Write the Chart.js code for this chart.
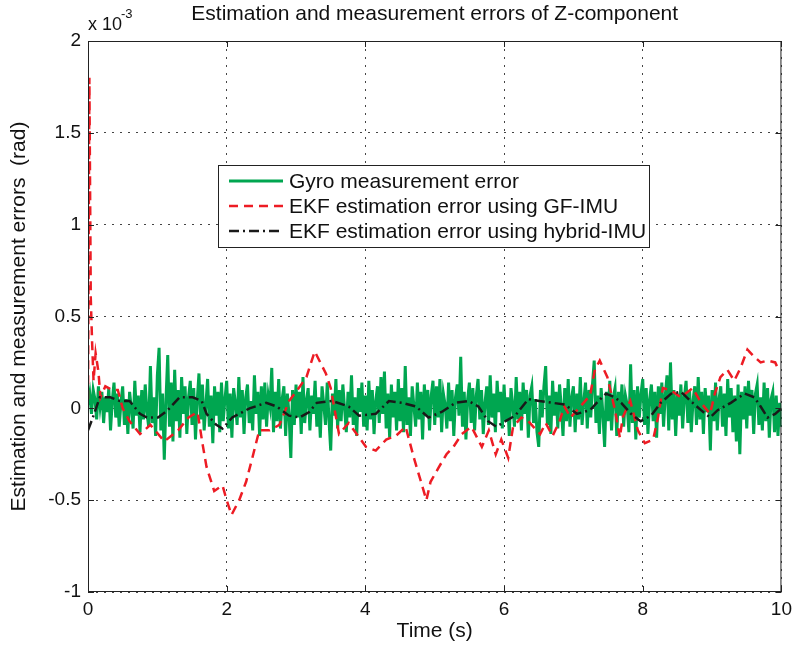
<!DOCTYPE html>
<html>
<head>
<meta charset="utf-8">
<script src="https://cdn.jsdelivr.net/npm/chart.js@4.4.0/dist/chart.umd.min.js"></script>
<style>
  body { margin: 0; background: #fff; }
  #caixaGrafico { width: 798px; height: 646px; position: relative; }
</style>
</head>
<body>
<div id="caixaGrafico"><canvas id="chartErros"></canvas></div>
<script>
// valores em unidades de 10^-3 rad
var passoGyro = 0.025; // s entre amostras do gyro
var erroGyro = [
    0.02, 0.08, -0.03, 0.10, 0.05, -0.06, 0.12, 0.01, 0.09, -0.08, 0.06, -0.02, 0.11, -0.12, 0.04, 0.14, -0.05, 0.08, -0.10, 0.03,
    0.12, -0.09, 0.05, -0.14, 0.09, 0.00, -0.11, 0.15, -0.04, 0.07, -0.13, 0.10, -0.06, 0.13, -0.02, -0.10, 0.23, -0.08, 0.06, -0.15,
    0.18, 0.33, -0.12, 0.08, -0.28, 0.05, 0.29, -0.10, 0.14, -0.18, 0.21, -0.07, 0.10, -0.16, 0.17, -0.03, 0.12, -0.14, 0.06, 0.15,
    -0.09, 0.11, -0.17, 0.04, 0.19, -0.06, 0.13, -0.12, 0.02, 0.16, -0.10, 0.07, -0.19, 0.12, -0.04, 0.09, -0.13, 0.14, -0.07, 0.05,
    0.15, -0.11, 0.08, -0.16, 0.11, 0.03, -0.09, 0.17, -0.05, 0.10, -0.14, 0.06, 0.13, -0.08, 0.04, -0.12, 0.18, -0.03, 0.09, -0.15,
    0.12, -0.06, 0.14, -0.10, 0.07, 0.01, 0.22, -0.13, 0.09, -0.07, 0.16, -0.11, 0.05, 0.12, -0.15, 0.08, -0.04, -0.27, 0.10, -0.09,
    0.13, -0.05, 0.09, -0.14, 0.17, -0.08, 0.04, 0.11, -0.12, 0.07, -0.03, 0.15, -0.10, 0.06, -0.16, 0.12, 0.02, -0.09, 0.14, -0.06,
    -0.23, 0.08, -0.04, 0.16, -0.11, 0.10, -0.07, 0.13, 0.00, -0.13, 0.09, -0.05, 0.18, -0.09, 0.06, -0.15, 0.11, -0.02, 0.14, -0.10,
    0.07, -0.12, 0.15, -0.06, 0.10, -0.14, 0.04, 0.12, -0.08, 0.17, -0.03, 0.20, -0.11, 0.08, -0.16, 0.13, -0.05, 0.09, -0.12, 0.16,
    -0.07, 0.11, -0.13, 0.23, -0.09, 0.06, -0.15, 0.12, 0.01, -0.10, 0.14, -0.06, 0.09, -0.17, 0.13, -0.04, 0.10, -0.12, 0.07, 0.15,
    -0.09, 0.12, -0.05, 0.16, -0.13, 0.08, 0.02, -0.11, 0.14, -0.07, 0.10, -0.15, 0.06, 0.13, -0.04, 0.28, -0.10, 0.09, -0.17, 0.05,
    0.14, -0.08, 0.11, -0.12, 0.07, 0.16, -0.06, 0.10, -0.14, 0.03, 0.12, -0.09, 0.18, -0.05, 0.08, -0.13, 0.15, -0.02, 0.09, -0.11,
    0.13, -0.07, 0.06, -0.15, 0.11, 0.02, -0.10, 0.17, -0.06, 0.09, -0.12, 0.14, -0.03, 0.10, -0.16, 0.07, 0.12, -0.08, 0.05, -0.13,
    -0.21, 0.10, -0.05, 0.12, 0.23, -0.09, 0.07, -0.14, 0.15, -0.04, 0.09, -0.11, 0.13, 0.01, -0.15, 0.11, -0.07, 0.16, -0.10, 0.06,
    0.12, -0.13, 0.08, -0.06, 0.17, -0.09, 0.04, 0.14, -0.11, 0.10, -0.05, 0.13, 0.26, -0.08, 0.07, -0.14, 0.11, -0.03, -0.21, 0.09,
    -0.07, 0.15, -0.12, 0.06, 0.11, -0.15, 0.09, -0.04, 0.13, -0.10, 0.07, 0.02, -0.13, 0.24, -0.08, 0.10, -0.17, 0.12, -0.05, 0.08,
    0.16, -0.09, 0.11, -0.14, 0.05, 0.13, -0.07, 0.09, -0.16, 0.12, -0.03, 0.14, -0.10, 0.07, 0.18, -0.12, 0.25, -0.06, 0.10, -0.15,
    0.08, -0.04, 0.13, -0.11, 0.06, 0.15, -0.08, 0.10, -0.13, 0.04, 0.12, -0.09, 0.17, -0.06, 0.09, -0.14, 0.11, -0.02, 0.07, -0.23,
    0.10, -0.07, 0.14, -0.12, 0.05, 0.12, -0.10, 0.08, -0.15, 0.16, -0.05, 0.11, -0.13, 0.07, -0.18, 0.13, -0.25, 0.09, -0.06, 0.12,
    -0.11, 0.15, -0.04, 0.10, -0.14, 0.08, 0.13, -0.09, 0.06, -0.12, 0.14, -0.07, 0.11, -0.16, 0.05, 0.09, -0.13, 0.07, -0.15, 0.03,
    -0.10
];

var tempoGF = [0.00, 0.02, 0.04, 0.06, 0.08, 0.11, 0.15, 0.18, 0.25, 0.35, 0.43, 0.50, 0.60, 0.75, 0.90, 1.10, 1.30, 1.45, 1.58, 1.65,
    1.71, 1.82, 1.94, 2.00, 2.07, 2.18, 2.28, 2.37, 2.47, 2.62, 2.76, 2.90, 3.02, 3.15, 3.27, 3.43, 3.50, 3.62, 3.76, 4.01,
    4.15, 4.30, 4.44, 4.58, 4.70, 4.81, 4.88, 4.94, 5.06, 5.17, 5.27, 5.39, 5.53, 5.68, 5.78, 5.88, 5.96, 6.06, 6.13, 6.25,
    6.35, 6.47, 6.52, 6.60, 6.70, 6.80, 6.87, 6.96, 7.10, 7.24, 7.31, 7.38, 7.49, 7.60, 7.67, 7.71, 7.82, 7.93, 8.03, 8.15,
    8.22, 8.29, 8.40, 8.55, 8.72, 8.84, 8.97, 9.04, 9.12, 9.22, 9.32, 9.41, 9.51, 9.61, 9.70, 9.80, 9.91, 9.97];
var erroGF = [0.05, 1.80, 0.60, 0.35, 0.15, 0.30, 0.20, 0.06, 0.12, 0.10, 0.10, 0.00, -0.07, -0.14, -0.09, -0.18, -0.12, -0.05, -0.02, -0.19,
    -0.32, -0.45, -0.42, -0.50, -0.58, -0.50, -0.40, -0.27, -0.12, -0.12, -0.09, 0.04, 0.10, 0.17, 0.31, 0.19, 0.11, -0.14, -0.08, -0.21,
    -0.23, -0.17, -0.15, -0.10, -0.27, -0.41, -0.50, -0.40, -0.32, -0.25, -0.21, -0.14, -0.10, -0.21, -0.12, -0.25, -0.17, -0.27, -0.10, -0.05,
    -0.07, -0.12, -0.14, -0.08, -0.15, -0.07, 0.01, -0.05, 0.01, 0.07, 0.21, 0.26, 0.17, -0.01, -0.16, -0.05, 0.04, -0.12, -0.19, -0.17,
    -0.05, 0.11, 0.10, 0.06, 0.11, 0.03, -0.03, 0.08, 0.17, 0.21, 0.15, 0.22, 0.32, 0.28, 0.25, 0.26, 0.25, 0.20];

var tempoHibrido = [0.00, 0.07, 0.17, 0.32, 0.46, 0.60, 0.75, 0.85, 1.01, 1.15, 1.32, 1.51, 1.64, 1.71, 1.85, 1.94, 2.08, 2.33, 2.57, 2.72,
    2.90, 3.05, 3.19, 3.30, 3.52, 3.76, 3.91, 4.15, 4.34, 4.53, 4.73, 4.91, 5.10, 5.30, 5.49, 5.63, 5.77, 5.89, 6.02, 6.16,
    6.35, 6.51, 6.70, 6.88, 7.05, 7.24, 7.36, 7.47, 7.60, 7.69, 7.83, 7.97, 8.12, 8.26, 8.41, 8.55, 8.69, 8.84, 8.97, 9.08,
    9.27, 9.47, 9.61, 9.70, 9.80, 9.91, 10.00];
var erroHibrido = [-0.12, -0.05, 0.06, 0.06, 0.04, 0.04, -0.03, -0.05, -0.05, -0.01, 0.06, 0.06, 0.04, -0.03, -0.09, -0.11, -0.05, 0.00, 0.03, 0.01,
    -0.04, -0.05, -0.02, 0.03, 0.04, 0.01, -0.04, -0.03, 0.04, 0.03, 0.01, -0.05, -0.02, 0.03, 0.04, 0.01, -0.07, -0.10, -0.07, -0.04,
    0.05, 0.04, 0.03, 0.02, -0.03, -0.01, 0.04, 0.08, 0.06, 0.03, -0.03, -0.07, -0.04, 0.03, 0.08, 0.09, 0.04, -0.01, -0.05, -0.01,
    0.03, 0.08, 0.06, 0.01, -0.05, -0.03, 0.00];

var ticksX = [0, 2, 4, 6, 8, 10];
var ticksY = [-1, -0.5, 0, 0.5, 1, 1.5, 2];

var fonteTexto = 'Liberation Sans, Arial, Helvetica, sans-serif';

// monta os pontos {x, y}
var pontosGyro = [];
for (var i = 0; i < erroGyro.length; i++) {
    pontosGyro.push({ x: i * passoGyro, y: erroGyro[i] });
}
var pontosGF = [];
for (var i = 0; i < erroGF.length; i++) {
    pontosGF.push({ x: tempoGF[i], y: erroGF[i] });
}
var pontosHibrido = [];
for (var i = 0; i < erroHibrido.length; i++) {
    pontosHibrido.push({ x: tempoHibrido[i], y: erroHibrido[i] });
}

// caixa, ticks internos, titulo, x10^-3 e legenda estilo matlab
var pluginMatlab = {
    id: 'pluginMatlab',
    afterDraw: function (chart) {
        var ctx = chart.ctx;
        var area = chart.chartArea;
        var sx = chart.scales.x;
        var sy = chart.scales.y;

        ctx.save();
        ctx.strokeStyle = '#222';
        ctx.lineWidth = 1;
        ctx.setLineDash([]);
        ctx.strokeRect(area.left + 0.5, area.top + 0.5, area.right - area.left - 1, area.bottom - area.top - 1);

        // ticks para dentro
        ctx.beginPath();
        ticksX.forEach(function (v) {
            var px = Math.round(sx.getPixelForValue(v)) + 0.5;
            ctx.moveTo(px, area.bottom); ctx.lineTo(px, area.bottom - 6);
            ctx.moveTo(px, area.top); ctx.lineTo(px, area.top + 6);
        });
        ticksY.forEach(function (v) {
            var py = Math.round(sy.getPixelForValue(v)) + 0.5;
            ctx.moveTo(area.left, py); ctx.lineTo(area.left + 6, py);
            ctx.moveTo(area.right, py); ctx.lineTo(area.right - 6, py);
        });
        ctx.stroke();

        // titulo
        ctx.fillStyle = '#111';
        ctx.font = '21px ' + fonteTexto;
        ctx.textAlign = 'center';
        ctx.textBaseline = 'middle';
        ctx.fillText('Estimation and measurement errors of Z-component', (area.left + area.right) / 2, 14);

        // multiplicador
        ctx.textAlign = 'left';
        ctx.font = '18px ' + fonteTexto;
        ctx.fillText('x 10', area.left, 25);
        ctx.font = '13px ' + fonteTexto;
        ctx.fillText('-3', area.left + 33, 14);

        // legenda
        var lx = 218, ly = 165, lw = 431, lh = 82;
        ctx.fillStyle = '#fff';
        ctx.fillRect(lx, ly, lw, lh);
        ctx.strokeStyle = '#222';
        ctx.lineWidth = 1;
        ctx.strokeRect(lx + 0.5, ly + 0.5, lw, lh);
        var linhas = [181, 206, 231];
        chart.data.datasets.forEach(function (ds, k) {
            ctx.save();
            ctx.strokeStyle = ds.borderColor;
            ctx.lineWidth = ds.borderWidth;
            ctx.setLineDash(ds.borderDash || []);
            ctx.beginPath();
            ctx.moveTo(229, linhas[k]);
            ctx.lineTo(283, linhas[k]);
            ctx.stroke();
            ctx.restore();
            ctx.fillStyle = '#111';
            ctx.font = '21px ' + fonteTexto;
            ctx.textAlign = 'left';
            ctx.textBaseline = 'middle';
            ctx.fillText(ds.label, 289, linhas[k] + 1);
        });
        ctx.restore();
    }
};

var configErros = {
    type: 'line',
    data: {
        datasets: [{
            label: 'Gyro measurement error',
            data: pontosGyro,
            borderColor: 'rgb(0, 166, 80)',
            borderWidth: 3,
            pointRadius: 0,
            order: 3
        },
        {
            label: 'EKF estimation error using GF-IMU',
            data: pontosGF,
            borderColor: 'rgb(237, 28, 36)',
            borderWidth: 2.5,
            borderDash: [9, 6],
            pointRadius: 0,
            order: 2
        },
        {
            label: 'EKF estimation error using hybrid-IMU',
            data: pontosHibrido,
            borderColor: 'rgb(25, 25, 25)',
            borderWidth: 2.5,
            borderDash: [10, 4, 2, 4],
            pointRadius: 0,
            order: 1
        }]
    },
    plugins: [pluginMatlab],
    options: {
        responsive: true,
        maintainAspectRatio: false,
        animation: false,
        layout: {
            padding: { left: 0, right: 14, top: 41, bottom: 0 }
        },
        scales: {
            x: {
                type: 'linear',
                min: 0,
                max: 10,
                afterBuildTicks: function (scale) {
                    scale.ticks = ticksX.map(function (v) { return { value: v }; });
                },
                afterFit: function (scale) { scale.height = 54; },
                grid: {
                    color: '#444',
                    lineWidth: 1,
                    drawTicks: false
                },
                border: { display: false, dash: [2, 6] },
                ticks: {
                    color: '#111',
                    padding: 6,
                    maxRotation: 0,
                    font: { size: 19, family: fonteTexto },
                    callback: function (v) { return String(v); }
                },
                title: {
                    display: true,
                    text: 'Time (s)',
                    color: '#111',
                    padding: { top: 0, bottom: 2 },
                    font: { size: 21, family: fonteTexto }
                }
            },
            y: {
                type: 'linear',
                min: -1,
                max: 2,
                afterBuildTicks: function (scale) {
                    scale.ticks = ticksY.map(function (v) { return { value: v }; });
                },
                afterFit: function (scale) { scale.width = 88; },
                grid: {
                    color: '#444',
                    lineWidth: 1,
                    drawTicks: false
                },
                border: { display: false, dash: [2, 6] },
                ticks: {
                    color: '#111',
                    padding: 7,
                    font: { size: 19, family: fonteTexto },
                    callback: function (v) { return String(v); }
                },
                title: {
                    display: true,
                    text: 'Estimation and measurement errors  (rad)',
                    color: '#111',
                    padding: { top: 7, bottom: 0 },
                    font: { size: 21, family: fonteTexto }
                }
            }
        },
        plugins: {
            legend: { display: false },
            tooltip: { enabled: false }
        }
    }
};

var chartErros = new Chart(document.getElementById('chartErros'), configErros);
</script>
</body>
</html>
